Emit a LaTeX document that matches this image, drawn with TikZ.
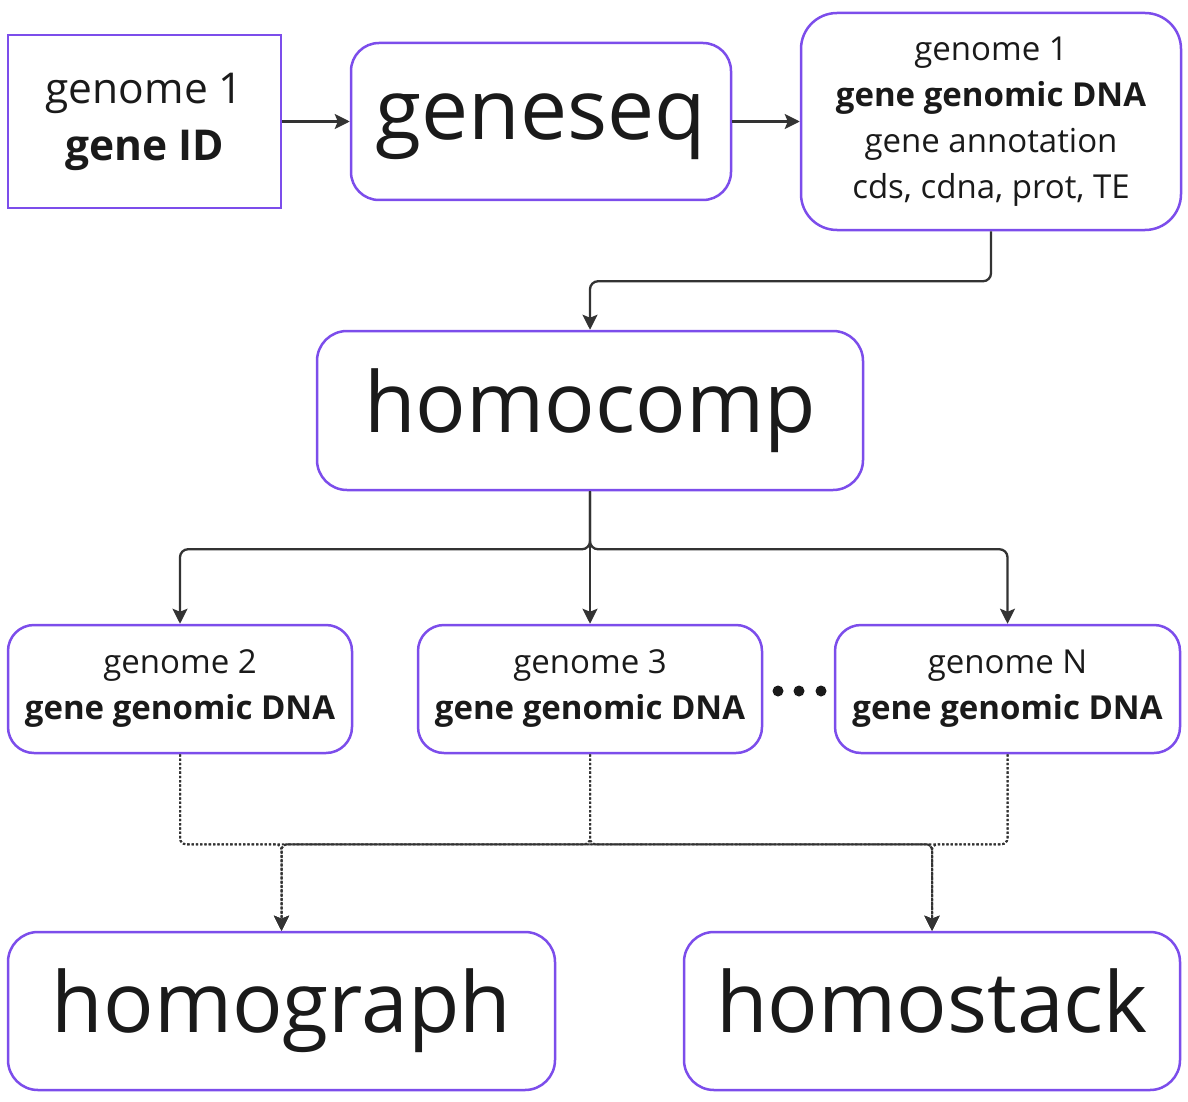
\documentclass[tikz,border=0pt]{standalone}
\usepackage{fontspec}
\setmainfont{Open Sans}
\usetikzlibrary{arrows.meta}
\definecolor{boxpurple}{HTML}{7C4DEB}
\definecolor{linegray}{HTML}{333333}
\definecolor{txt}{HTML}{1A1A1A}
\tikzset{
  box/.style={draw=boxpurple, line width=2.5pt, fill=white, text=txt, inner sep=0pt, align=center},
  rbox/.style={box, rounded corners=#1},
  arr/.style={draw=linegray, line width=2.3pt, -{Stealth[length=15pt,width=15pt,inset=3pt]}},
  dotarr/.style={arr, dotted, line width=2pt},
  big/.style={font=\fontsize{84}{100}\selectfont},
  mid/.style={font=\fontsize{42.5}{57}\selectfont},
  small/.style={font=\fontsize{33}{46}\selectfont},
}
\begin{document}
\begin{tikzpicture}[x=1pt,y=-1pt]
\useasboundingbox (0,0) rectangle (1188,1102);
\node[box, mid, minimum width=273pt, minimum height=173pt] (A) at (144.5,121.5) {genome 1\\\textbf{gene ID}};
\node[rbox=28pt, big, minimum width=380pt, minimum height=157pt] (geneseq) at (541,121.5) {};
\node[big, text=txt, yshift=-5pt] (geneseqtxt) at (geneseq) {geneseq};
\node[rbox=36pt, small, minimum width=380pt, minimum height=217pt] (info) at (991,121.5) {genome 1\\\textbf{gene genomic DNA}\\gene annotation\\cds, cdna, prot, TE};
\node[rbox=30pt, big, minimum width=546pt, minimum height=159pt] (homocomp) at (590,410.5) {homocomp};
\node[rbox=26pt, small, minimum width=344pt, minimum height=128pt] (g2) at (180,689) {genome 2\\\textbf{gene genomic DNA}\rule{0pt}{0pt}};
\node[rbox=26pt, small, minimum width=344pt, minimum height=128pt] (g3) at (590,689) {genome 3\\\textbf{gene genomic DNA}};
\node[rbox=26pt, small, minimum width=345pt, minimum height=128pt] (gN) at (1007.5,689) {genome N\\\textbf{gene genomic DNA}};
\node[rbox=30pt, big, minimum width=547pt, minimum height=158pt] (homograph) at (281.5,1011) {homograph};
\node[rbox=30pt, big, minimum width=496pt, minimum height=158pt] (homostack) at (932,1011) {homostack\vphantom{p}};
\foreach \xx in {778,799,821} \fill[txt] (\xx,691) circle (5.5pt);
\draw[arr] (A.east) -- (geneseq.west);
\draw[arr] (geneseq.east) -- (info.west);
\draw[arr, rounded corners=8pt] (info.south) -- ++(0,50) -| (homocomp.north);
\draw[arr, rounded corners=8pt] (homocomp.south) -- ++(0,58) -| (g2.north);
\draw[arr] (homocomp.south) -- (g3.north);
\draw[arr, rounded corners=8pt] (homocomp.south) -- ++(0,58) -| (gN.north);
\foreach \g in {g2,g3,gN}{
  \draw[dotarr, rounded corners=6pt] (\g.south) -- ++(0,90) -| (homograph.north);
  \draw[dotarr, rounded corners=6pt] (\g.south) -- ++(0,90) -| (homostack.north);
}
\end{tikzpicture}
\end{document}
